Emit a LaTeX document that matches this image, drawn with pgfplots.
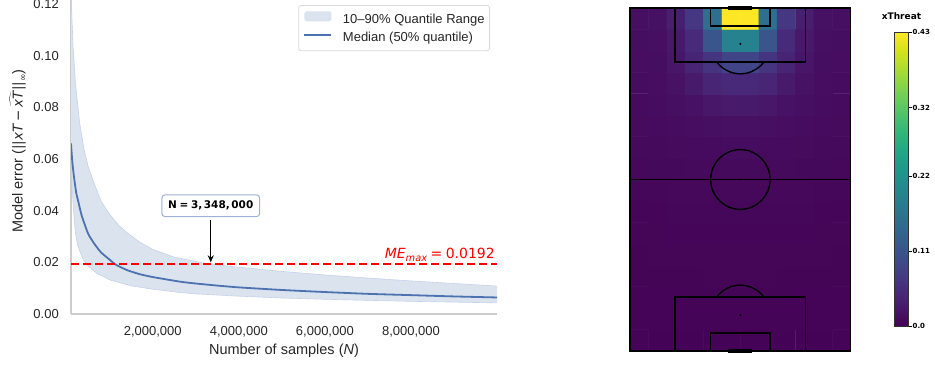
\documentclass[border=0pt]{standalone}
\usepackage{fontspec}
\setmainfont{Liberation Sans}
\newfontfamily\dejavu{DejaVu Sans}
\usepackage{pgfplots}
\pgfplotsset{compat=1.18}
\usepgfplotslibrary{fillbetween}
\usetikzlibrary{arrows.meta}
\definecolor{sbblue}{HTML}{4C72B0}
\definecolor{bandfill}{HTML}{DBE3EF}
\definecolor{bandedge}{HTML}{C6D2E7}
\definecolor{spine}{HTML}{CCCCCC}
\definecolor{txt}{HTML}{262626}
\definecolor{legedge}{HTML}{D9D9D9}
\definecolor{boxedge}{HTML}{9DB2D6}
\begin{document}
\begin{tikzpicture}
% ---------------- left panel ----------------
\begin{axis}[
  at={(71bp,55bp)}, anchor=south west, scale only axis,
  width=426bp, height=315.2bp,
  xmin=100000, xmax=10000000, ymin=0, ymax=0.122,
  axis x line*=bottom, axis y line*=left,
  axis line style={spine, line width=1.25bp, -},
  xtick={2000000,4000000,6000000,8000000},
  xticklabels={{2,000,000},{4,000,000},{6,000,000},{8,000,000}},
  ytick={0,0.02,0.04,0.06,0.08,0.1,0.12},
  yticklabels={0.00,0.02,0.04,0.06,0.08,0.10,0.12},
  scaled ticks=false,
  major tick length=0pt, tick style={draw=none},
  ticklabel style={font=\fontsize{13bp}{15bp}\selectfont, text=txt},
  xticklabel style={yshift=-8.7bp},
  yticklabel style={xshift=-8.7bp},
  xlabel={Number of samples (\textit{N})},
  xlabel style={at={(axis description cs:0.5,0)}, anchor=base, yshift=-40.4bp,
     font=\fontsize{14.5bp}{16bp}\selectfont, text=txt},
  ylabel={Model error ({\dejavu\fontsize{13.5bp}{15bp}\selectfont ||\textit{xT}\,−\,$\widehat{\hbox{\textit{xT}}}$||\raisebox{-0.25em}{\fontsize{9bp}{9bp}\selectfont ∞}})},
  ylabel style={at={(axis description cs:-0.1138,0.517)}, anchor=base,
     font=\fontsize{14.5bp}{16bp}\selectfont, text=txt},
  legend style={at={(axis description cs:0.9836,0.9803)}, anchor=north east,
     draw=legedge, rounded corners=2.5bp, line width=0.8bp, fill=white,
     font=\fontsize{13bp}{15bp}\selectfont, text=txt,
     inner xsep=5bp, inner ysep=5.85bp,
     nodes={inner sep=0pt, text height=9.5bp, text depth=3bp},
     column sep=10.7bp, row sep=6bp},
  legend cell align=left,
]
\addplot[name path=up, draw=bandedge, line width=0.6bp, forget plot] coordinates {
(100000,0.128) (120000,0.115) (150000,0.103) (200000,0.090) (300000,0.074)
(400000,0.064) (500000,0.057) (650000,0.050) (800000,0.0437) (1000000,0.0385)
(1200000,0.0345) (1400000,0.0315) (1700000,0.0278) (2000000,0.0250) (2500000,0.0220)
(3000000,0.0203) (3348000,0.0193) (4000000,0.0181) (5000000,0.0165) (6000000,0.0151)
(7000000,0.0139) (8000000,0.0128) (9000000,0.0118) (10000000,0.0108)};
\addplot[name path=lo, draw=bandedge, line width=0.6bp, forget plot] coordinates {
(100000,0.066) (120000,0.052) (150000,0.042) (200000,0.032) (250000,0.027)
(300000,0.0245) (390000,0.0209) (500000,0.0185) (700000,0.0158) (1000000,0.0132)
(1500000,0.0109) (2000000,0.0096) (2640000,0.0083) (3000000,0.0078) (4000000,0.0069)
(5000000,0.0062) (6000000,0.0057) (7000000,0.0053) (8000000,0.0049) (9000000,0.0046)
(10000000,0.0043)};
\addplot[fill=bandfill, draw=none,
  legend image code/.code={\fill[bandfill] (0bp,-1.2bp) rectangle (27bp,8.8bp);}]
  fill between[of=up and lo];
\addlegendentry{10–90\% Quantile Range}
\addplot[sbblue, line width=1.8bp, smooth, tension=0.3,
  legend image code/.code={\draw[sbblue, line width=1.6bp] (0bp,3.8bp) -- (27bp,3.8bp);}] coordinates {
(100000,0.066) (130000,0.059) (170000,0.053) (220000,0.047) (270000,0.0435)
(350000,0.038) (500000,0.031) (650000,0.027) (800000,0.0238) (1000000,0.0210)
(1130000,0.0192) (1400000,0.0170) (1700000,0.0154) (2000000,0.0143) (2640000,0.0125)
(3000000,0.0118) (3500000,0.0110) (4000000,0.0103) (5000000,0.0093) (6000000,0.0085)
(7000000,0.0078) (8000000,0.0073) (9000000,0.0068) (10000000,0.0064)};
\addlegendentry{Median (50\% quantile)}
\addplot[red, line width=1.8bp, dash pattern=on 7.5bp off 4.5bp, forget plot] coordinates {
(100000,0.0192) (10000000,0.0192)};
\node[anchor=base east, text=red, inner sep=0pt, xshift=-2bp,
  font=\dejavu\fontsize{14bp}{16bp}\selectfont] at (axis cs:10000000,0.0215)
  {\itshape ME\raisebox{-0.22em}{\fontsize{9.8bp}{10bp}\selectfont max}\upshape\hspace{0.25em}=\hspace{0.25em}0.0192};
\node[draw=boxedge, line width=1bp, fill=white, rounded corners=3bp,
  minimum width=97.6bp, minimum height=21.7bp, inner sep=0pt,
  font=\dejavu\bfseries\fontsize{10.5bp}{12bp}\selectfont]
  at (axis cs:3348000,0.0419) {N\hspace{0.25em}=\hspace{0.25em}3,\hspace{0.15em}348,\hspace{0.15em}000};
\draw[-{Stealth[length=7bp,width=6bp]}, line width=1.2bp, black]
  (axis cs:3348000,0.0364) -- (axis cs:3348000,0.0200);
\end{axis}
% ---------------- right panel ----------------
\begin{axis}[
  at={(630bp,18bp)}, anchor=south west, scale only axis,
  width=220.7bp, height=343bp,
  xmin=0, xmax=68, ymin=0, ymax=105,
  hide axis, clip=false,
  colormap/viridis, point meta min=0, point meta max=0.43,
  colorbar,
  colorbar style={
    at={(parent axis.north east)}, anchor=north west,
    xshift=35.3bp, yshift=-24.3bp,
    scale only axis, width=14bp, height=294bp,
    ytick={0,0.11,0.22,0.32,0.43},
    yticklabels={0.0,0.11,0.22,0.32,0.43},
    ytick pos=right, yticklabel pos=right,
    tick align=outside, major tick length=3bp,
    tick style={black, line width=0.6bp},
    axis line style={black!80, line width=0.6bp},
    yticklabel style={font=\dejavu\bfseries\fontsize{7bp}{8bp}\selectfont, inner sep=1bp},
    title={xThreat},
    title style={at={(0.5,1)}, anchor=base, yshift=7.3bp,
      font=\dejavu\bfseries\fontsize{9bp}{10bp}\selectfont},
  },
]
\addplot[matrix plot*, shader=faceted, faceted color=mapped color, line width=0.4bp,
  mesh/cols=12, mesh/rows=16, point meta=explicit] coordinates {
(2.833,3.281)[0.003] (8.5,3.281)[0.002] (14.167,3.281)[0.002] (19.833,3.281)[0.002] (25.5,3.281)[0.002] (31.167,3.281)[0.002] (36.833,3.281)[0.002] (42.5,3.281)[0.002] (48.167,3.281)[0.002] (53.833,3.281)[0.002] (59.5,3.281)[0.002] (65.167,3.281)[0.003]
(2.833,9.844)[0.003] (8.5,9.844)[0.003] (14.167,9.844)[0.003] (19.833,9.844)[0.003] (25.5,9.844)[0.003] (31.167,9.844)[0.003] (36.833,9.844)[0.003] (42.5,9.844)[0.003] (48.167,9.844)[0.003] (53.833,9.844)[0.003] (59.5,9.844)[0.003] (65.167,9.844)[0.003]
(2.833,16.406)[0.003] (8.5,16.406)[0.003] (14.167,16.406)[0.003] (19.833,16.406)[0.004] (25.5,16.406)[0.004] (31.167,16.406)[0.004] (36.833,16.406)[0.004] (42.5,16.406)[0.004] (48.167,16.406)[0.004] (53.833,16.406)[0.003] (59.5,16.406)[0.003] (65.167,16.406)[0.003]
(2.833,22.969)[0.004] (8.5,22.969)[0.004] (14.167,22.969)[0.004] (19.833,22.969)[0.004] (25.5,22.969)[0.005] (31.167,22.969)[0.005] (36.833,22.969)[0.005] (42.5,22.969)[0.005] (48.167,22.969)[0.004] (53.833,22.969)[0.004] (59.5,22.969)[0.004] (65.167,22.969)[0.004]
(2.833,29.531)[0.004] (8.5,29.531)[0.005] (14.167,29.531)[0.005] (19.833,29.531)[0.005] (25.5,29.531)[0.005] (31.167,29.531)[0.005] (36.833,29.531)[0.005] (42.5,29.531)[0.005] (48.167,29.531)[0.005] (53.833,29.531)[0.005] (59.5,29.531)[0.005] (65.167,29.531)[0.004]
(2.833,36.094)[0.005] (8.5,36.094)[0.005] (14.167,36.094)[0.006] (19.833,36.094)[0.006] (25.5,36.094)[0.006] (31.167,36.094)[0.006] (36.833,36.094)[0.006] (42.5,36.094)[0.006] (48.167,36.094)[0.006] (53.833,36.094)[0.006] (59.5,36.094)[0.005] (65.167,36.094)[0.005]
(2.833,42.656)[0.006] (8.5,42.656)[0.006] (14.167,42.656)[0.007] (19.833,42.656)[0.007] (25.5,42.656)[0.007] (31.167,42.656)[0.007] (36.833,42.656)[0.007] (42.5,42.656)[0.007] (48.167,42.656)[0.007] (53.833,42.656)[0.007] (59.5,42.656)[0.006] (65.167,42.656)[0.006]
(2.833,49.219)[0.007] (8.5,49.219)[0.007] (14.167,49.219)[0.008] (19.833,49.219)[0.008] (25.5,49.219)[0.008] (31.167,49.219)[0.008] (36.833,49.219)[0.008] (42.5,49.219)[0.008] (48.167,49.219)[0.008] (53.833,49.219)[0.008] (59.5,49.219)[0.007] (65.167,49.219)[0.007]
(2.833,55.781)[0.008] (8.5,55.781)[0.009] (14.167,55.781)[0.009] (19.833,55.781)[0.010] (25.5,55.781)[0.010] (31.167,55.781)[0.010] (36.833,55.781)[0.010] (42.5,55.781)[0.010] (48.167,55.781)[0.010] (53.833,55.781)[0.009] (59.5,55.781)[0.009] (65.167,55.781)[0.008]
(2.833,62.344)[0.010] (8.5,62.344)[0.010] (14.167,62.344)[0.011] (19.833,62.344)[0.012] (25.5,62.344)[0.012] (31.167,62.344)[0.013] (36.833,62.344)[0.013] (42.5,62.344)[0.012] (48.167,62.344)[0.012] (53.833,62.344)[0.011] (59.5,62.344)[0.010] (65.167,62.344)[0.010]
(2.833,68.906)[0.011] (8.5,68.906)[0.012] (14.167,68.906)[0.013] (19.833,68.906)[0.014] (25.5,68.906)[0.016] (31.167,68.906)[0.017] (36.833,68.906)[0.017] (42.5,68.906)[0.016] (48.167,68.906)[0.014] (53.833,68.906)[0.013] (59.5,68.906)[0.012] (65.167,68.906)[0.011]
(2.833,75.469)[0.012] (8.5,75.469)[0.013] (14.167,75.469)[0.016] (19.833,75.469)[0.020] (25.5,75.469)[0.026] (31.167,75.469)[0.029] (36.833,75.469)[0.029] (42.5,75.469)[0.026] (48.167,75.469)[0.020] (53.833,75.469)[0.016] (59.5,75.469)[0.013] (65.167,75.469)[0.012]
(2.833,82.031)[0.013] (8.5,82.031)[0.014] (14.167,82.031)[0.019] (19.833,82.031)[0.030] (25.5,82.031)[0.044] (31.167,82.031)[0.048] (36.833,82.031)[0.048] (42.5,82.031)[0.044] (48.167,82.031)[0.030] (53.833,82.031)[0.019] (59.5,82.031)[0.014] (65.167,82.031)[0.013]
(2.833,88.594)[0.014] (8.5,88.594)[0.015] (14.167,88.594)[0.024] (19.833,88.594)[0.042] (25.5,88.594)[0.065] (31.167,88.594)[0.088] (36.833,88.594)[0.088] (42.5,88.594)[0.065] (48.167,88.594)[0.042] (53.833,88.594)[0.024] (59.5,88.594)[0.015] (65.167,88.594)[0.014]
(2.833,95.156)[0.015] (8.5,95.156)[0.016] (14.167,95.156)[0.028] (19.833,95.156)[0.050] (25.5,95.156)[0.112] (31.167,95.156)[0.190] (36.833,95.156)[0.190] (42.5,95.156)[0.112] (48.167,95.156)[0.050] (53.833,95.156)[0.028] (59.5,95.156)[0.016] (65.167,95.156)[0.015]
(2.833,101.719)[0.016] (8.5,101.719)[0.018] (14.167,101.719)[0.035] (19.833,101.719)[0.068] (25.5,101.719)[0.155] (31.167,101.719)[0.430] (36.833,101.719)[0.430] (42.5,101.719)[0.155] (48.167,101.719)[0.068] (53.833,101.719)[0.035] (59.5,101.719)[0.018] (65.167,101.719)[0.016]
};
% pitch markings
\draw[black, line width=1.4bp] (axis cs:0,0) rectangle (axis cs:68,105);
\draw[black, line width=1.4bp] (axis cs:0,52.5) -- (axis cs:68,52.5);
\draw[black, line width=1.4bp] (axis cs:34,52.5) circle[radius=9.15];
\fill[black] (axis cs:34,52.5) circle[radius=0.3];
\draw[black, line width=1.4bp] (axis cs:13.84,105) rectangle (axis cs:54.16,88.5);
\draw[black, line width=1.4bp] (axis cs:24.84,105) rectangle (axis cs:43.16,99.5);
\fill[black] (axis cs:34,94) circle[radius=0.35];
\draw[black, line width=1.4bp] (axis cs:13.84,0) rectangle (axis cs:54.16,16.5);
\draw[black, line width=1.4bp] (axis cs:24.84,0) rectangle (axis cs:43.16,5.5);
\fill[black] (axis cs:34,11) circle[radius=0.35];
\begin{scope}
\clip (axis cs:0,60) rectangle (axis cs:68,88.5);
\draw[black, line width=1.4bp] (axis cs:34,94) circle[radius=9.15];
\end{scope}
\begin{scope}
\clip (axis cs:0,16.5) rectangle (axis cs:68,45);
\draw[black, line width=1.4bp] (axis cs:34,11) circle[radius=9.15];
\end{scope}
\draw[black, line width=3.3bp] (axis cs:30.34,105) -- (axis cs:37.66,105);
\draw[black, line width=3.3bp] (axis cs:30.34,0) -- (axis cs:37.66,0);
\end{axis}
\pgfresetboundingbox
\useasboundingbox (0,0) rectangle (935bp,369bp);
\end{tikzpicture}
\end{document}
